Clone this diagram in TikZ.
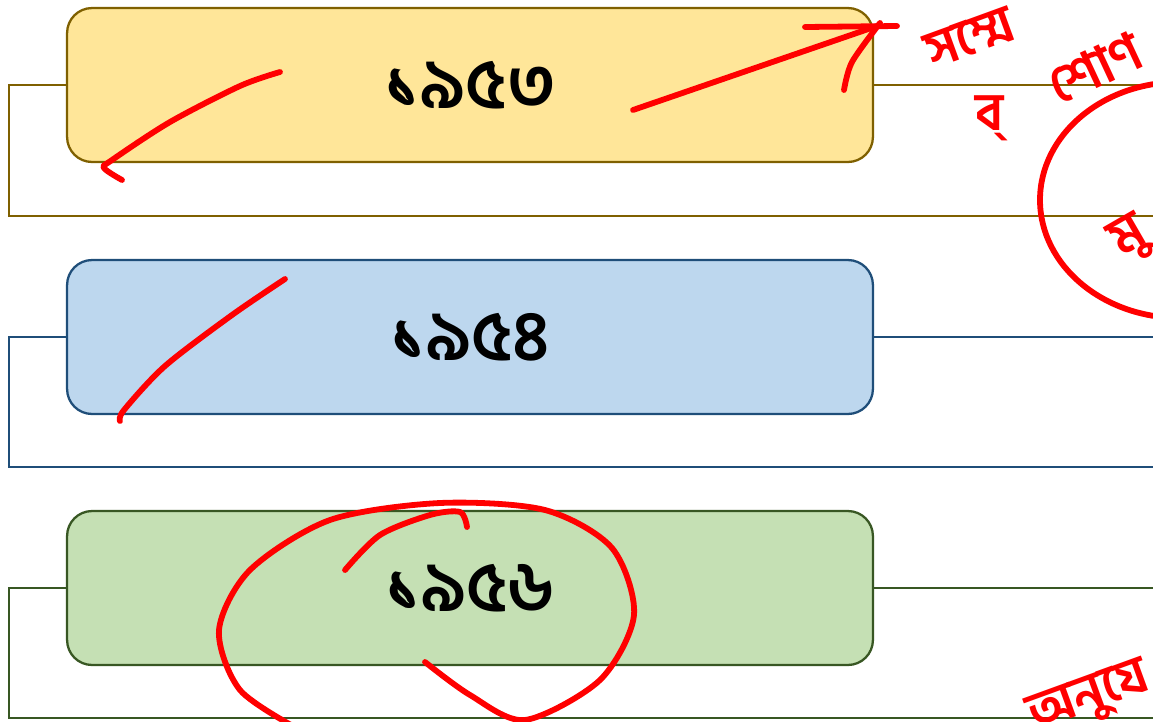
\documentclass[tikz,border=0pt]{standalone}
\usepackage{fontspec}
\newfontfamily\bnfont[Script=Bengali]{Hind Siliguri}
\usetikzlibrary{positioning}

\begin{document}
\begin{tikzpicture}
[x=0.02cm,y=-0.02cm,
 yearbox/.style={draw,line width=1.3pt,rounded corners=0.5cm,
   minimum width=16.12cm,minimum height=3.08cm,
   font=\bnfont\bfseries\fontsize{40}{48}\selectfont},
 frame/.style={line width=1.2pt},
 pen/.style={red,line width=3.3pt,line cap=round,line join=round},
 note/.style={red,font=\bnfont\bfseries\fontsize{30}{36}\selectfont}]
\useasboundingbox (0,0) rectangle (1153,721);
\clip (0,0) rectangle (1153,721);
\definecolor{yfill}{HTML}{FFE699}\definecolor{yline}{HTML}{7F6000}
\definecolor{bfill}{HTML}{BDD7EE}\definecolor{bline}{HTML}{1F4E79}
\definecolor{gfill}{HTML}{C5E0B4}\definecolor{gline}{HTML}{385723}
% frames
\coordinate (fa1) at (9,85);  \coordinate (fa2) at (9,216);
\coordinate (fa3) at (1170,216); \coordinate (fa4) at (1170,85);
\coordinate (fb1) at (9,337); \coordinate (fb2) at (9,467);
\coordinate (fb3) at (1170,467); \coordinate (fb4) at (1170,337);
\coordinate (fc1) at (9,588); \coordinate (fc2) at (9,718);
\coordinate (fc3) at (1170,718); \coordinate (fc4) at (1170,588);
\node[yearbox,fill=yfill,draw=yline](y53) at (470,85){১৯৫৩};
\node[yearbox,fill=bfill,draw=bline](y54) at (470,337){১৯৫৪};
\node[yearbox,fill=gfill,draw=gline](y56) at (470,588){১৯৫৬};
\draw[frame,yline] (y53.west) -- (fa1) -- (fa2) -- (fa3);
\draw[frame,yline] (y53.east) -- (fa4);
\draw[frame,bline] (y54.west) -- (fb1) -- (fb2) -- (fb3);
\draw[frame,bline] (y54.east) -- (fb4);
\draw[frame,gline] (y56.west) -- (fc1) -- (fc2) -- (fc3);
\draw[frame,gline] (y56.east) -- (fc4);
% red marks
\draw[pen] plot[smooth] coordinates {(280,72) (240,86) (170,122) (112,160) (104,168) (122,180)};
\draw[pen] plot[smooth] coordinates {(285,279) (232,315) (165,366) (124,410) (120,421)};
\draw[pen] (633,110) -- (880,25);
\draw[pen] plot[smooth] coordinates {(844,90) (852,62) (880,23)};
\draw[pen] (805,27) -- (897,26);
\draw[pen] plot[smooth] coordinates {(425,662) (470,695) (525,720) (600,680) (634,615) (612,548) (545,510) (440,503) (330,520) (250,570) (219,630) (240,690) (300,730)};
\draw[pen] plot[smooth] coordinates {(345,570) (380,535) (430,515) (460,512) (467,527)};
\draw[pen] (1180,200) ellipse [x radius=140,y radius=118];
\node[note,rotate=20] (n1) at (970,38) {সম্মে};
\node[note] (n2) at (990,118) {ব্};
\node[note,rotate=25] (n3) at (1095,68) {শোণ};
\node[note,rotate=30] (n4) at (1130,240) {মু};
\node[note,rotate=20] (n5) at (1090,700) {অনুযে};
\end{tikzpicture}
\end{document}
